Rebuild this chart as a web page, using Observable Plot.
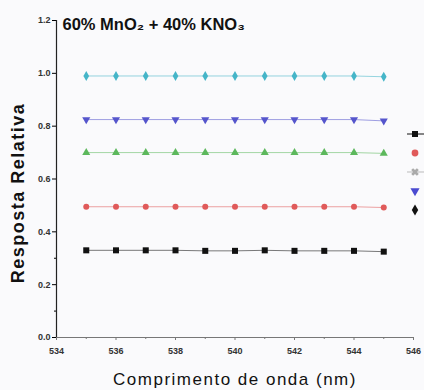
<!DOCTYPE html>
<html>
<head>
<meta charset="utf-8">
<script src="https://cdn.jsdelivr.net/npm/d3@7"></script>
<script src="https://cdn.jsdelivr.net/npm/@observablehq/plot@0.6"></script>
<style>
  html, body { margin: 0; padding: 0; background: #fafafc; }
  #wrap { position: relative; width: 424px; height: 390px; overflow: hidden; }
  #legend { position: absolute; left: 400px; top: 120px; }
</style>
</head>
<body>
<div id="wrap"></div>
<script>
// ---- data ----
const wavelengths = [535, 536, 537, 538, 539, 540, 541, 542, 543, 544, 545];
const seriesSquare  = [0.330, 0.330, 0.330, 0.330, 0.328, 0.328, 0.330, 0.328, 0.328, 0.328, 0.325];
const seriesCircle  = [0.495, 0.495, 0.495, 0.495, 0.495, 0.495, 0.495, 0.495, 0.495, 0.495, 0.492];
const seriesTriUp   = [0.700, 0.700, 0.700, 0.700, 0.700, 0.700, 0.700, 0.700, 0.700, 0.700, 0.697];
const seriesTriDown = [0.825, 0.825, 0.825, 0.825, 0.825, 0.825, 0.825, 0.825, 0.825, 0.825, 0.820];
const seriesDiamond = [0.990, 0.990, 0.990, 0.990, 0.990, 0.990, 0.990, 0.990, 0.990, 0.990, 0.987];
const xTicks = [534, 536, 538, 540, 542, 544, 546];
const xMinorTicks = [535, 537, 539, 541, 543, 545];
const yTicks = [0.0, 0.2, 0.4, 0.6, 0.8, 1.0, 1.2];
const yMinorTicks = [0.1, 0.3];
const titleText = "60% MnO\u2082 + 40% KNO\u2083";
const xLabel = "Comprimento de onda (nm)";
const yLabel = "Resposta Relativa";

const series = [
  {values: seriesSquare,  color: "#111111", symbol: "square",   rotate: 0,   r: 3.4},
  {values: seriesCircle,  color: "#e05a5a", symbol: "circle",   rotate: 0,   r: 3.0},
  {values: seriesTriUp,   color: "#5cb85c", symbol: "triangle", rotate: 0,   r: 3.0},
  {values: seriesTriDown, color: "#5555cc", symbol: "triangle", rotate: 180, r: 3.0},
  {values: seriesDiamond, color: "#45b5c8", symbol: "diamond",  rotate: 0,   r: 3.0}
];

const marks = [];
marks.push(Plot.ruleX([534], {y1: 0, y2: 1.2, stroke: "#222", strokeWidth: 1.2}));
marks.push(Plot.ruleY([0], {stroke: "#777", strokeWidth: 1}));
marks.push(Plot.axisY(yTicks, {tickSize: 4, tickFormat: d => d.toFixed(1), fontSize: 9, fontWeight: "bold", fill: "#333", tickPadding: 2, label: null}));
marks.push(Plot.axisY(yMinorTicks, {tickSize: 2, tickFormat: () => "", label: null}));
marks.push(Plot.axisX(xTicks, {tickSize: 3, tickFormat: d => String(d), fontSize: 9, fontWeight: "bold", fill: "#333", tickPadding: 7, label: null, stroke: "#777"}));
marks.push(Plot.axisX(xMinorTicks, {tickSize: 2, tickFormat: () => "", label: null, stroke: "#777"}));

for (const s of series) {
  const rows = wavelengths.map((w, i) => ({x: w, y: s.values[i]}));
  marks.push(Plot.line(rows, {x: "x", y: "y", stroke: s.color, strokeWidth: 0.8, strokeOpacity: 0.7}));
  marks.push(Plot.dot(rows, {x: "x", y: "y", symbol: s.symbol, fill: s.color, stroke: "none", r: s.r, rotate: s.rotate}));
}

marks.push(Plot.text([titleText], {frameAnchor: "top-left", dx: 6, dy: 4, fontSize: 16.5, fontWeight: "bold", fill: "#111", textAnchor: "start", lineAnchor: "middle"}));
marks.push(Plot.text([yLabel], {frameAnchor: "left", dx: -38, dy: 14, rotate: -90, fontSize: 18, fontWeight: "bold", fill: "#111", textAnchor: "middle", lineAnchor: "middle"}));
marks.push(Plot.text([xLabel], {frameAnchor: "bottom", dy: 42, fontSize: 17, fill: "#111", textAnchor: "middle", lineAnchor: "middle"}));

const chart = Plot.plot({
  width: 424,
  height: 390,
  marginLeft: 56,
  marginRight: 11,
  marginTop: 20,
  marginBottom: 53,
  style: {background: "#fafafc", fontFamily: "'Liberation Sans', Arial, sans-serif", overflow: "visible"},
  x: {domain: [534, 546]},
  y: {domain: [0, 1.2]},
  marks
});
document.getElementById("wrap").appendChild(chart);
// letter spacing for the axis titles (as in the original scan)
d3.select(chart).selectAll("text").filter(function() { return this.textContent === yLabel || this.textContent === xLabel; })
  .attr("letter-spacing", "1.5px");

// ---- legend (labels cut off at the right edge in the original) ----
const legendItems = [
  {symbol: d3.symbolSquare,   color: "#111111", rotate: 0,   line: true,  lineColor: "#111"},
  {symbol: d3.symbolCircle,   color: "#e05a5a", rotate: 0,   line: false},
  {symbol: d3.symbolCross,    color: "#aaaaaa", rotate: 45,  line: true,  lineColor: "#bbb"},
  {symbol: d3.symbolTriangle, color: "#4a4ad0", rotate: 180, line: false},
  {symbol: d3.symbolDiamond,  color: "#111111", rotate: 0,   line: false}
];
const lg = d3.select("#wrap").append("svg").attr("id", "legend").attr("width", 24).attr("height", 100);
legendItems.forEach((it, i) => {
  const g = lg.append("g").attr("transform", `translate(15,${14 + i * 19})`);
  if (it.line) g.append("line").attr("x1", -8).attr("x2", 9).attr("stroke", it.lineColor).attr("stroke-width", 1);
  g.append("path").attr("d", d3.symbol(it.symbol, 36)()).attr("fill", it.color).attr("transform", `rotate(${it.rotate})`);
});
</script>
</body>
</html>
